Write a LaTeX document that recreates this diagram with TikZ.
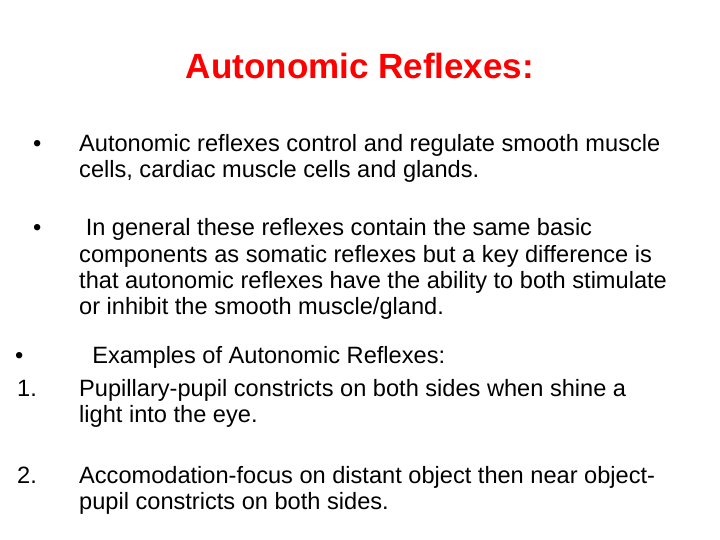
\documentclass[tikz,border=0pt]{standalone}
\usepackage{fontspec}
\setmainfont{Liberation Sans}
\begin{document}
\begin{tikzpicture}[x=1pt,y=-1pt,
  body/.style={anchor=base west,inner sep=0pt,font=\fontsize{23.6}{28}\selectfont},
  ttl/.style={anchor=base,inner sep=0pt,text=red,font=\bfseries\fontsize{35}{40}\selectfont}]
\useasboundingbox (0,0) rectangle (720,540);
\node[ttl] (t) at (360,79) {Autonomic Reflexes:};
\node[body] (b1) at (33,152) {•};
\node[body] (l1) at (79,152) {Autonomic reflexes control and regulate smooth muscle};
\node[body] (l2) at (79,178) {cells, cardiac muscle cells and glands.};
\node[body] (b2) at (33,236) {•};
\node[body] (l3) at (79,236) {\ In general these reflexes contain the same basic};
\node[body] (l4) at (79,262) {components as somatic reflexes but a key difference is};
\node[body] (l5) at (79,288) {that autonomic reflexes have the ability to both stimulate};
\node[body] (l6) at (79,314) {or inhibit the smooth muscle/gland.};
\node[body] (b3) at (15,363) {•};
\node[body] (l7) at (79,363) {\ \ Examples of Autonomic Reflexes:};
\node[body] (n1) at (17,396) {1.};
\node[body] (l8) at (79,396) {Pupillary-pupil constricts on both sides when shine a};
\node[body] (l9) at (79,422) {light into the eye.};
\node[body] (n2) at (17,483) {2.};
\node[body] (l10) at (79,483) {Accomodation-focus on distant object then near object-};
\node[body] (l11) at (79,509) {pupil constricts on both sides.};
\end{tikzpicture}
\end{document}
